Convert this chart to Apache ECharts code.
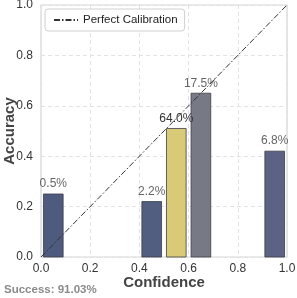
<!DOCTYPE html>
<html><head><meta charset="utf-8">
<script src="https://cdn.jsdelivr.net/npm/echarts@6/dist/echarts.min.js"></script>
<style>html,body{margin:0;padding:0;background:#fff}#c{width:297px;height:298px}</style>
</head><body><div id="c"></div>
<script>
var binCenters = [0.05, 0.45, 0.55, 0.65, 0.95];
var accuracy = [0.25, 0.22, 0.51, 0.65, 0.42];
var shareLabels = ['0.5%', '2.2%', '64.0%', '17.5%', '6.8%'];
var barColors = ['#4e5b7f', '#525e80', '#d9ca78', '#777a85', '#5b6283'];
var binWidth = 0.08;
var successText = 'Success: 91.03%';

var chart = echarts.init(document.getElementById('c'));
var data = binCenters.map(function(c, i){ return [c, accuracy[i], i]; });
chart.setOption({
  animation: false,
  backgroundColor: '#fff',
  textStyle: {fontFamily: 'Liberation Sans, Arial, sans-serif'},
  grid: {left: 41, top: 5, width: 246, height: 252, outerBoundsMode: 'none', containLabel: false,
         show: true, borderColor: '#d6d6d6', borderWidth: 1.2},
  legend: {
    left: 45, top: 9, padding: [5, 7, 5, 8],
    borderColor: '#d0d0d0', borderWidth: 1, borderRadius: 3, backgroundColor: '#fff',
    itemWidth: 24, itemHeight: 10, itemGap: 6,
    textStyle: {fontSize: 11.5, color: '#222'},
    itemStyle: {color: 'rgba(0,0,0,0)', borderWidth: 0},
    data: ['Perfect Calibration']
  },
  xAxis: {
    type: 'value', min: 0, max: 1, interval: 0.2,
    name: 'Confidence', nameLocation: 'middle', nameGap: 18, nameMoveOverlap: false,
    nameTextStyle: {fontSize: 15, fontWeight: 'bold', color: '#444'},
    axisLine: {show: false}, axisTick: {show: false},
    axisLabel: {fontSize: 12, color: '#333', margin: 6, formatter: function(v){ return v.toFixed(1); }},
    splitLine: {show: true, lineStyle: {type: [4, 3], color: '#e2e2e2'}}
  },
  yAxis: {
    type: 'value', min: 0, max: 1, interval: 0.2,
    name: 'Accuracy', nameLocation: 'middle', nameGap: 24, nameRotate: 90, nameMoveOverlap: false,
    nameTextStyle: {fontSize: 15, fontWeight: 'bold', color: '#444'},
    axisLine: {show: false}, axisTick: {show: false},
    axisLabel: {fontSize: 12, color: '#333', margin: 8, formatter: function(v){ return v.toFixed(1); }},
    splitLine: {show: true, lineStyle: {type: [4, 3], color: '#e2e2e2'}}
  },
  graphic: [{type: 'text', left: 4, top: 284, style: {text: successText, fontSize: 11.5, fontWeight: 'bold', fill: '#8a8a8a', fontFamily: 'Liberation Sans, Arial, sans-serif'}}],
  series: [
    {
      type: 'custom', z: 2,
      data: data,
      renderItem: function(params, api){
        var c = api.value(0), v = api.value(1), i = api.value(2);
        var p0 = api.coord([c - binWidth/2, v]);
        var p1 = api.coord([c + binWidth/2, 0]);
        var mid = api.coord([c, v]);
        return {type: 'group', children: [
          {type: 'rect', shape: {x: p0[0], y: p0[1], width: p1[0]-p0[0], height: p1[1]-p0[1]},
           style: {fill: barColors[i], stroke: '#3a3d48', lineWidth: 0.8}},
          {type: 'text', x: mid[0], y: mid[1] - 4, z2: 10,
           style: {text: shareLabels[i], align: 'center', verticalAlign: 'bottom', fontSize: 12,
                   fill: i === 2 ? '#333' : '#666', fontFamily: 'Liberation Sans, Arial, sans-serif'}}
        ]};
      }
    },
    {
      type: 'line', name: 'Perfect Calibration', z: 5,
      data: [[0, 0], [1, 1]], symbol: 'none',
      lineStyle: {color: '#333', width: 1, type: [6, 2, 1.5, 2]},
      itemStyle: {color: '#333'}
    }
  ]
});
</script></body></html>
